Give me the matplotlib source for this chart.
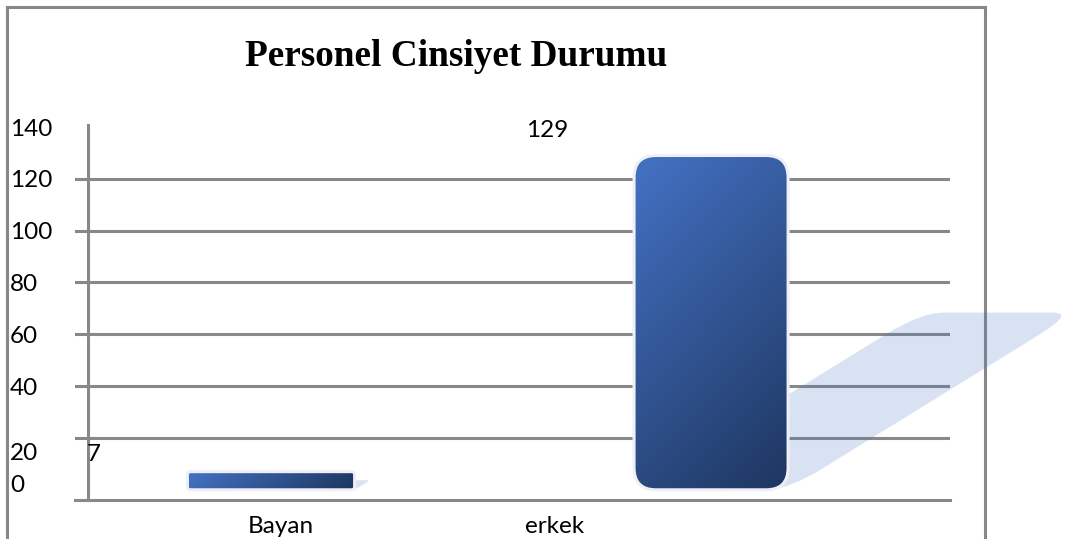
import numpy as np
import matplotlib
matplotlib.use("Agg")
import matplotlib.pyplot as plt
from matplotlib.patches import FancyBboxPatch
from matplotlib.lines import Line2D
from matplotlib.transforms import blended_transform_factory, ScaledTranslation, Affine2D

categories = ["Bayan", "erkek"]
values = [7, 129]
y_ticks = [0, 20, 40, 60, 80, 100, 120, 140]
grid_values = [20, 40, 60, 80, 100, 120]
title = "Personel Cinsiyet Durumu"

W, H = 1067, 539
GRAY = "#888888"
LW = 2.2
FONT = "Lato"
FS = 17.5

fig = plt.figure(figsize=(W / 100, H / 100), dpi=100)

# plot area: x 75..950 px, y 127..500 px
ax = fig.add_axes([75 / W, (H - 500) / H, 875 / W, 373 / H])
ax.patch.set_visible(False)
ax.set_xticks([])
ax.set_yticks([])
for s in ["top", "right", "left"]:
    ax.spines[s].set_visible(False)
ax.spines["bottom"].set_color(GRAY)
ax.spines["bottom"].set_linewidth(LW)

for g in grid_values:
    ax.axhline(g, color=GRAY, lw=LW, zorder=1)
ax.plot([13 / 875] * 2, [0, 1.0054], transform=ax.transAxes, color=GRAY,
        lw=LW, clip_on=False, zorder=1)

# outer frame
for xs, ys in [([7, 7], [H, 7]), ([7, 985], [7, 7]), ([985, 985], [7, H])]:
    fig.add_artist(Line2D([x / W for x in xs], [1 - y / H for y in ys],
                          color=GRAY, lw=LW, zorder=-1,
                          transform=fig.transFigure))

# bars with diagonal gradient, rounded corners and a slanted shadow
widths = [0.38, 0.35]
label_off = [(-177, 11), (-164, 19)]   # where the original puts the value labels
px_x = 440.0      # pixels per x unit
px_y = 2.59       # pixels per y unit
aspect = px_x / px_y
c0 = np.array([68, 114, 196]) / 255
c1 = np.array([30, 54, 96]) / 255
for i, (v, w) in enumerate(zip(values, widths)):
    x0 = i - w / 2
    wpx, hpx = w * px_x, v * px_y
    r_px = min(22, 0.15 * hpx)
    rs = "round,pad=0,rounding_size=%f" % (r_px / px_x)

    # shadow: a rounded box of about half the bar height, sheared to the right
    k = 1.62 * px_y / px_x
    shear = Affine2D(np.array([[1, k, 0], [0, 1, 0], [0, 0, 1]]))
    sh = FancyBboxPatch((x0, 0), w, v * 0.53, boxstyle=rs, mutation_aspect=aspect,
                        facecolor="#4472C4", alpha=0.2, lw=0, clip_on=False,
                        zorder=2, transform=shear + ax.transData)
    ax.add_patch(sh)

    box = FancyBboxPatch((x0, 0), w, v, boxstyle=rs,
                         mutation_aspect=aspect, facecolor="none",
                         edgecolor="#EEF0F6", lw=2.2, zorder=4)
    ax.add_patch(box)
    nx, ny = 60, 120
    fx, fy = np.meshgrid(np.linspace(0, 1, nx), np.linspace(0, 1, ny))
    t = (fx * wpx + fy * hpx) / (wpx + hpx)
    img = c0[None, None, :] * (1 - t[..., None]) + c1[None, None, :] * t[..., None]
    im = ax.imshow(img, extent=[x0, x0 + w, 0, v], origin="upper",
                   aspect="auto", zorder=3, interpolation="bilinear")
    im.set_clip_path(box)

    ax.annotate(str(v), xy=(i, v), xytext=label_off[i], textcoords="offset pixels",
                ha="center", va="baseline", family=FONT, fontsize=FS, color="black")

ax.set_xlim(-0.4455, 1.543)
ax.set_ylim(-3.94, 140)

# category labels
x_label_dx = [10, -157]
for i, (cat, d) in enumerate(zip(categories, x_label_dx)):
    ax.annotate(cat, xy=(i, -3.94), xytext=(d, -33), textcoords="offset pixels",
                ha="center", va="baseline", family=FONT, fontsize=FS,
                annotation_clip=False)

# y tick labels, left aligned near the frame
trans = blended_transform_factory(fig.transFigure, ax.transData)
label_dy = {20: 22.5, 0: 2.5}
for v in y_ticks:
    dy = label_dy.get(v, 8.5)
    tr = trans + ScaledTranslation(0, -dy / 100, fig.dpi_scale_trans)
    ax.text(10 / W, v, str(v), transform=tr, ha="left", va="baseline",
            family=FONT, fontsize=FS, clip_on=False)

fig.text(456 / W, 1 - 66 / H, title, ha="center", va="baseline",
         family="Liberation Serif", weight="bold", fontsize=26.8)

fig.savefig("out.png", dpi=100)
